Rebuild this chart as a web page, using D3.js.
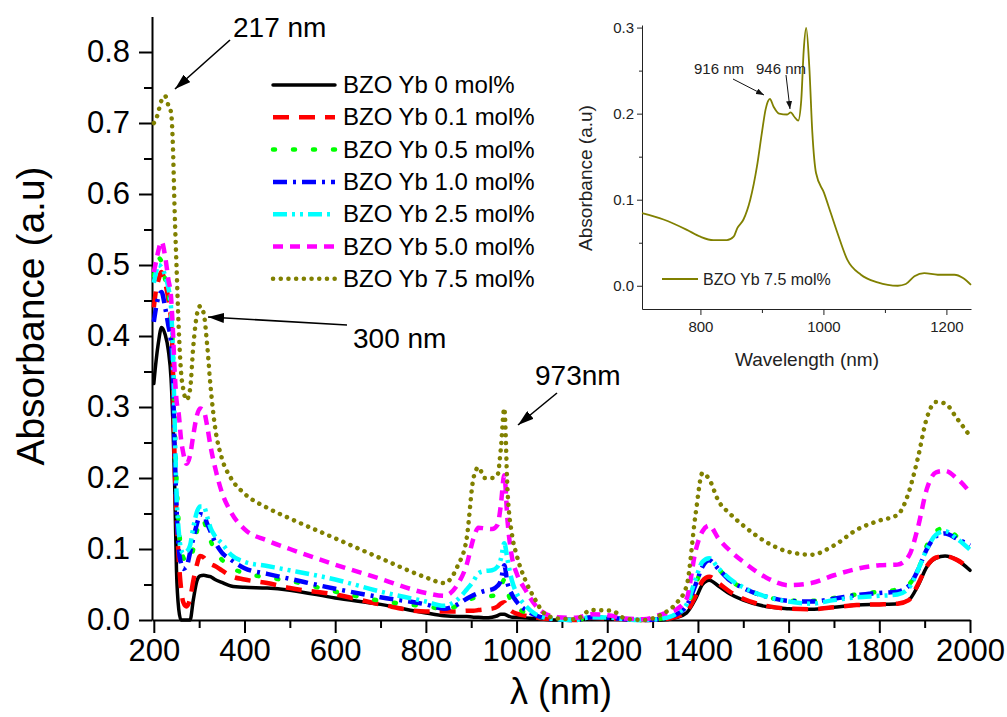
<!DOCTYPE html>
<html lang="en">
<head>
<meta charset="UTF-8">
<title>BZO Yb absorbance spectra</title>
<script src="https://d3js.org/d3.v7.min.js"></script>
<style>
  body { margin: 0; background: #fff; }
  svg { display: block; font-family: Arial, "Liberation Sans", sans-serif; }
  .axis path, .axis line { stroke: #000; }
  .inset .axis path, .inset .axis line { stroke: #222; }
</style>
</head>
<body>
<svg id="chart" width="1007" height="717"></svg>
<script>
// ---- data ----
const wavelengths = [200, 205, 210, 217, 225, 232, 238, 242, 246, 250,
  255, 260, 265, 272, 280, 287, 295, 302, 310, 318,
  325, 335, 350, 370, 400, 450, 500, 600, 700, 800,
  840, 870, 890, 905, 916, 930, 946, 958, 965, 973,
  980, 990, 1000, 1020, 1040, 1060, 1090, 1130, 1165, 1210,
  1240, 1280, 1320, 1350, 1375, 1395, 1410, 1425, 1445, 1470,
  1500, 1550, 1600, 1650, 1700, 1750, 1800, 1840, 1865, 1885,
  1905, 1925, 1945, 1970, 2000];

const yb00 = [0.333, 0.365, 0.39, 0.412, 0.402, 0.38, 0.34, 0.28, 0.19, 0.07,
  0.015, 0.0, 0.0, 0.0, 0.0, 0.028, 0.055, 0.062, 0.063, 0.062,
  0.061, 0.057, 0.053, 0.048, 0.046, 0.045, 0.042, 0.031, 0.022, 0.01,
  0.006, 0.005, 0.005, 0.004, 0.004, 0.003, 0.004, 0.006, 0.008, 0.008,
  0.006, 0.004, 0.004, 0.003, 0.002, 0.001, 0.0, 0.0, 0.002, 0.002,
  0.001, 0.0, 0.0, 0.003, 0.01, 0.03, 0.05, 0.056, 0.048, 0.037,
  0.028, 0.019, 0.016, 0.015, 0.018, 0.021, 0.022, 0.023, 0.028, 0.048,
  0.075, 0.087, 0.09, 0.085, 0.07];

const yb01 = [0.44, 0.465, 0.478, 0.49, 0.475, 0.452, 0.42, 0.36, 0.22, 0.15,
  0.085, 0.045, 0.025, 0.019, 0.03, 0.055, 0.078, 0.09, 0.088, 0.082,
  0.079, 0.076, 0.07, 0.062, 0.057, 0.052, 0.045, 0.036, 0.022, 0.012,
  0.012, 0.012, 0.013, 0.013, 0.014, 0.015, 0.016, 0.019, 0.023, 0.025,
  0.018, 0.012, 0.009, 0.006, 0.004, 0.002, 0.001, 0.0, 0.003, 0.002,
  0.001, 0.0, 0.001, 0.004, 0.012, 0.034, 0.055, 0.061, 0.052, 0.04,
  0.03, 0.02, 0.016, 0.015, 0.018, 0.021, 0.022, 0.023, 0.028, 0.05,
  0.076, 0.088, 0.09, 0.085, 0.072];

const yb05 = [0.485, 0.5, 0.51, 0.505, 0.48, 0.46, 0.43, 0.38, 0.28, 0.2,
  0.135, 0.1, 0.088, 0.082, 0.083, 0.1, 0.125, 0.142, 0.14, 0.122,
  0.112, 0.097, 0.085, 0.074, 0.066, 0.06, 0.055, 0.04, 0.027, 0.019,
  0.016, 0.02, 0.027, 0.031, 0.032, 0.033, 0.034, 0.036, 0.045, 0.057,
  0.04, 0.024, 0.018, 0.01, 0.005, 0.003, 0.001, 0.0, 0.004, 0.003,
  0.001, 0.0, 0.002, 0.007, 0.02, 0.05, 0.075, 0.085, 0.072, 0.056,
  0.045, 0.033, 0.027, 0.027, 0.031, 0.036, 0.04, 0.043, 0.05, 0.07,
  0.105, 0.125, 0.13, 0.118, 0.104];

const yb10 = [0.42, 0.44, 0.455, 0.462, 0.44, 0.415, 0.39, 0.34, 0.24, 0.16,
  0.1, 0.08, 0.072, 0.075, 0.095, 0.115, 0.135, 0.149, 0.148, 0.135,
  0.125, 0.11, 0.095, 0.085, 0.073, 0.065, 0.058, 0.044, 0.032, 0.022,
  0.016, 0.022, 0.03, 0.035, 0.038, 0.041, 0.043, 0.048, 0.055, 0.077,
  0.052, 0.036, 0.026, 0.014, 0.007, 0.003, 0.001, 0.0, 0.004, 0.003,
  0.001, 0.0, 0.002, 0.007, 0.02, 0.05, 0.075, 0.084, 0.072, 0.056,
  0.045, 0.033, 0.027, 0.026, 0.03, 0.035, 0.038, 0.04, 0.048, 0.07,
  0.1, 0.118, 0.122, 0.115, 0.105];

const yb25 = [0.475, 0.49, 0.5, 0.497, 0.485, 0.468, 0.44, 0.38, 0.28, 0.18,
  0.125, 0.1, 0.094, 0.096, 0.105, 0.13, 0.152, 0.16, 0.16, 0.145,
  0.13, 0.118, 0.108, 0.092, 0.082, 0.076, 0.07, 0.057, 0.04, 0.026,
  0.02, 0.029, 0.043, 0.055, 0.066, 0.069, 0.07, 0.075, 0.085, 0.108,
  0.085, 0.055, 0.038, 0.02, 0.009, 0.004, 0.001, 0.0, 0.004, 0.003,
  0.001, 0.0, 0.002, 0.008, 0.022, 0.058, 0.082, 0.087, 0.073, 0.058,
  0.046, 0.033, 0.026, 0.023, 0.028, 0.032, 0.034, 0.036, 0.045, 0.07,
  0.1, 0.12, 0.125, 0.115, 0.099];

const yb50 = [0.49, 0.505, 0.52, 0.533, 0.512, 0.48, 0.455, 0.41, 0.35, 0.31,
  0.29, 0.255, 0.235, 0.22, 0.232, 0.26, 0.288, 0.298, 0.295, 0.272,
  0.245, 0.215, 0.18, 0.152, 0.128, 0.112, 0.1, 0.078, 0.058, 0.038,
  0.034, 0.05, 0.078, 0.115, 0.13, 0.129, 0.128, 0.134, 0.16, 0.204,
  0.14, 0.088, 0.066, 0.042, 0.022, 0.01, 0.004, 0.003, 0.008, 0.006,
  0.002, 0.001, 0.008, 0.014, 0.03, 0.098, 0.125, 0.133, 0.115, 0.098,
  0.082, 0.06, 0.049, 0.052, 0.063, 0.072, 0.077, 0.078, 0.09, 0.13,
  0.185, 0.208, 0.21, 0.2, 0.18];

const yb75 = [0.70, 0.705, 0.716, 0.732, 0.738, 0.725, 0.715, 0.67, 0.575, 0.5,
  0.41, 0.35, 0.325, 0.31, 0.325, 0.385, 0.43, 0.442, 0.432, 0.385,
  0.33, 0.272, 0.228, 0.2, 0.178, 0.158, 0.143, 0.115, 0.087, 0.06,
  0.052, 0.076, 0.115, 0.2, 0.215, 0.2, 0.2, 0.204, 0.239, 0.298,
  0.183, 0.12, 0.092, 0.055, 0.03, 0.01, 0.002, 0.001, 0.014, 0.013,
  0.002, 0.0, 0.008, 0.022, 0.048, 0.15, 0.207, 0.198, 0.168, 0.15,
  0.133, 0.11, 0.096, 0.092, 0.105, 0.127, 0.14, 0.148, 0.18, 0.228,
  0.285, 0.307, 0.305, 0.285, 0.259];

const seriesNames = ["BZO Yb 0 mol%", "BZO Yb 0.1 mol%", "BZO Yb 0.5 mol%",
  "BZO Yb 1.0 mol%", "BZO Yb 2.5 mol%", "BZO Yb 5.0 mol%", "BZO Yb 7.5 mol%"];
const seriesValues = [yb00, yb01, yb05, yb10, yb25, yb50, yb75];

const xTicks = [200, 400, 600, 800, 1000, 1200, 1400, 1600, 1800, 2000];
const yTicks = [0.0, 0.1, 0.2, 0.3, 0.4, 0.5, 0.6, 0.7, 0.8];

// inset: 7.5 mol% sample, 700-1240 nm
const insetWl = [705, 740, 778, 800, 821, 843, 854, 860, 870, 881,
  892, 900, 906, 913, 919, 928, 941, 947, 952, 959,
  964, 968, 972, 977, 982, 988, 1001, 1012, 1023, 1039,
  1061, 1088, 1121, 1134, 1148, 1164, 1186, 1213, 1227, 1240];
const insetAbs = [0.0845, 0.077, 0.065, 0.057, 0.053, 0.053, 0.057, 0.067, 0.077, 0.1,
  0.139, 0.178, 0.205, 0.217, 0.208, 0.2, 0.199, 0.2015, 0.197, 0.192,
  0.216, 0.274, 0.2996, 0.255, 0.178, 0.131, 0.108, 0.0845, 0.061, 0.030,
  0.0128, 0.004, 0.0, 0.002, 0.011, 0.0147, 0.0128, 0.0128, 0.009, 0.001];
const insetXTicks = [800, 1000, 1200];
const insetYTicks = [0.0, 0.1, 0.2, 0.3];

// ---- styles ----
const colors = ["#000000", "#ff0000", "#00ff00", "#0000ff", "#00ffff", "#ff00ff", "#808000"];
const dashes = [null, "16,10", "2,18", "14,6,3,6", "14,5,3,5,3,5", "10,7", "0.1,7.6"];
const widths = [3.5, 4.5, 4.5, 4.5, 4.5, 4.5, 4.5];
const caps = ["round", "butt", "round", "butt", "butt", "butt", "round"];
const olive = "#808000";

const svg = d3.select("#chart");
svg.append("rect").attr("width", 1007).attr("height", 717).attr("fill", "#fff");

const defs = svg.append("defs");
defs.append("marker").attr("id", "head")
  .attr("viewBox", "0 0 16 10").attr("refX", 16).attr("refY", 5)
  .attr("markerWidth", 16).attr("markerHeight", 10)
  .attr("markerUnits", "userSpaceOnUse").attr("orient", "auto")
  .append("path").attr("d", "M0,0L16,5L0,10Z").attr("fill", "#000");
defs.append("marker").attr("id", "headSmall")
  .attr("viewBox", "0 0 8 6").attr("refX", 8).attr("refY", 3)
  .attr("markerWidth", 8).attr("markerHeight", 6)
  .attr("markerUnits", "userSpaceOnUse").attr("orient", "auto")
  .append("path").attr("d", "M0,0L8,3L0,6Z").attr("fill", "#111");

// ---- main plot ----
const x = d3.scaleLinear().domain([196, 2000]).range([152, 970]);
const y = d3.scaleLinear().domain([0, 0.85]).range([620, 16.5]);

const xMinor = xTicks.slice(0, -1).map(v => v + 100);
const yMinor = yTicks.map(v => v + 0.05).slice(0, -1);

svg.append("g").attr("class", "axis").attr("transform", "translate(0,620)")
  .call(d3.axisBottom(x).tickValues(xMinor).tickSize(8).tickSizeOuter(0).tickFormat(""))
  .call(g => g.select(".domain").remove())
  .selectAll("line").attr("stroke-width", 2);
svg.append("g").attr("class", "axis").attr("transform", "translate(152,0)")
  .call(d3.axisLeft(y).tickValues(yMinor).tickSize(8).tickSizeOuter(0).tickFormat(""))
  .call(g => g.select(".domain").remove())
  .selectAll("line").attr("stroke-width", 2);

const gx = svg.append("g").attr("class", "axis").attr("transform", "translate(0,620)")
  .call(d3.axisBottom(x).tickValues(xTicks).tickSize(13).tickSizeOuter(0).tickPadding(6)
    .tickFormat(d3.format("d")));
const gy = svg.append("g").attr("class", "axis").attr("transform", "translate(152,0)")
  .call(d3.axisLeft(y).tickValues(yTicks).tickSize(13).tickSizeOuter(0).tickPadding(9)
    .tickFormat(d3.format(".1f")));
[gx, gy].forEach(g => {
  g.select(".domain").attr("stroke-width", 2);
  g.selectAll("line").attr("stroke-width", 2);
  g.selectAll("text").attr("font-size", 31).attr("fill", "#000")
    .attr("font-family", "Arial, 'Liberation Sans', sans-serif");
});

svg.append("text").attr("x", 561).attr("y", 704).attr("text-anchor", "middle")
  .attr("font-size", 36).text("λ (nm)");
svg.append("text").attr("transform", "translate(44,316) rotate(-90)")
  .attr("text-anchor", "middle").attr("font-size", 39).text("Absorbance (a.u)");

const line = d3.line()
  .x((d, i) => x(wavelengths[i]))
  .y(d => y(d))
  .curve(d3.curveMonotoneX);

seriesValues.forEach((vals, k) => {
  svg.append("path").datum(vals)
    .attr("d", line)
    .attr("fill", "none")
    .attr("stroke", colors[k])
    .attr("stroke-width", widths[k])
    .attr("stroke-dasharray", dashes[k])
    .attr("stroke-linecap", caps[k])
    .attr("stroke-linejoin", "round");
});

// legend
const legend = svg.append("g").attr("transform", "translate(273,85)");
seriesNames.forEach((name, k) => {
  const row = legend.append("g").attr("transform", `translate(0,${k * 32.3})`);
  row.append("line").attr("x1", 0).attr("x2", 62)
    .attr("stroke", colors[k]).attr("stroke-width", widths[k])
    .attr("stroke-dasharray", dashes[k]).attr("stroke-linecap", caps[k]);
  row.append("text").attr("x", 70).attr("y", 8).attr("font-size", 24).text(name);
});

// peak annotations
const notes = [
  { label: "217 nm", tx: 233, ty: 37, from: [230, 40], to: [175, 89] },
  { label: "300 nm", tx: 353, ty: 348, from: [347, 325], to: [208, 317] },
  { label: "973nm", tx: 535, ty: 385, from: [557, 393], to: [518, 425] }
];
notes.forEach(n => {
  svg.append("text").attr("x", n.tx).attr("y", n.ty).attr("font-size", 28).text(n.label);
  svg.append("line").attr("x1", n.from[0]).attr("y1", n.from[1])
    .attr("x2", n.to[0]).attr("y2", n.to[1])
    .attr("stroke", "#000").attr("stroke-width", 1.6).attr("marker-end", "url(#head)");
});

// ---- inset ----
const inset = svg.append("g").attr("class", "inset");
const ix = d3.scaleLinear().domain([705, 1240]).range([642, 971]);
const iy = d3.scaleLinear().domain([-0.027, 0.303]).range([309, 25]);

inset.append("g").attr("class", "axis").attr("transform", "translate(0,309)")
  .call(d3.axisBottom(ix).tickValues([900, 1100]).tickSize(4).tickSizeOuter(0).tickFormat(""))
  .call(g => g.select(".domain").remove());
inset.append("g").attr("class", "axis").attr("transform", "translate(642,0)")
  .call(d3.axisLeft(iy).tickValues([0.05, 0.15, 0.25]).tickSize(3).tickSizeOuter(0).tickFormat(""))
  .call(g => g.select(".domain").remove());
const igx = inset.append("g").attr("class", "axis").attr("transform", "translate(0,309)")
  .call(d3.axisBottom(ix).tickValues(insetXTicks).tickSize(6).tickSizeOuter(0).tickPadding(6)
    .tickFormat(d3.format("d")));
const igy = inset.append("g").attr("class", "axis").attr("transform", "translate(642,0)")
  .call(d3.axisLeft(iy).tickValues(insetYTicks).tickSize(5).tickSizeOuter(0).tickPadding(3)
    .tickFormat(d3.format(".1f")));
[igx, igy].forEach(g => {
  g.selectAll("text").attr("font-size", 15).attr("fill", "#222")
    .attr("font-family", "Arial, 'Liberation Sans', sans-serif");
});

inset.append("text").attr("x", 807).attr("y", 366).attr("text-anchor", "middle")
  .attr("font-size", 19).attr("fill", "#222").text("Wavelength (nm)");
inset.append("text").attr("transform", "translate(592,178) rotate(-90)")
  .attr("text-anchor", "middle").attr("font-size", 19).attr("fill", "#222")
  .text("Absorbance (a.u)");

const iline = d3.line()
  .x((d, i) => ix(insetWl[i]))
  .y(d => iy(d))
  .curve(d3.curveMonotoneX);
inset.append("path").datum(insetAbs).attr("d", iline)
  .attr("fill", "none").attr("stroke", olive).attr("stroke-width", 1.8);

inset.append("line").attr("x1", 662).attr("x2", 698).attr("y1", 279).attr("y2", 279)
  .attr("stroke", olive).attr("stroke-width", 1.8);
inset.append("text").attr("x", 703).attr("y", 285).attr("font-size", 16)
  .attr("fill", "#222").text("BZO Yb 7.5 mol%");

const inotes = [
  { label: "916 nm", tx: 694, ty: 74, from: [733, 79], to: [764, 95] },
  { label: "946 nm", tx: 756, ty: 74, from: [786, 75], to: [790, 109] }
];
inotes.forEach(n => {
  inset.append("text").attr("x", n.tx).attr("y", n.ty).attr("font-size", 15)
    .attr("fill", "#222").text(n.label);
  inset.append("line").attr("x1", n.from[0]).attr("y1", n.from[1])
    .attr("x2", n.to[0]).attr("y2", n.to[1])
    .attr("stroke", "#111").attr("stroke-width", 1).attr("marker-end", "url(#headSmall)");
});
</script>
</body>
</html>
